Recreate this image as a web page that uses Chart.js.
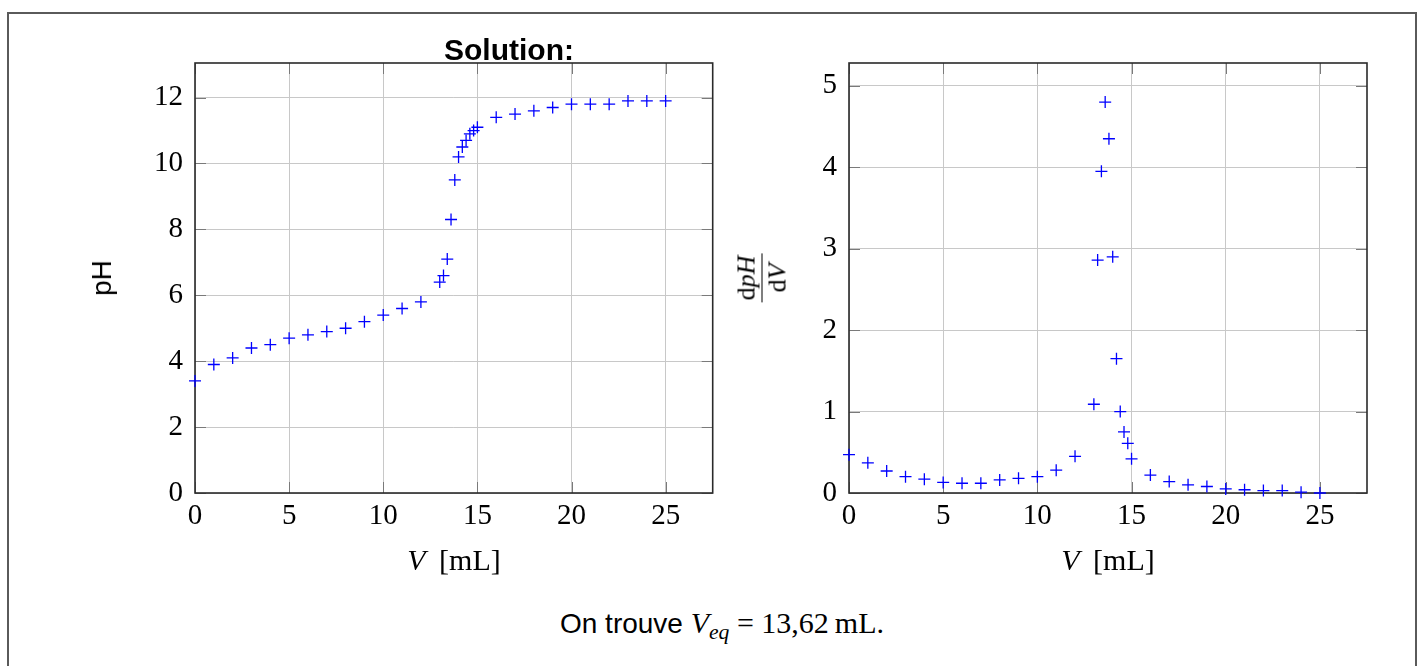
<!DOCTYPE html>
<html><head><meta charset="utf-8">
<script src="https://cdn.jsdelivr.net/npm/chart.js@4/dist/chart.umd.min.js"></script>
<style>
html,body{margin:0;padding:0;background:#fff;width:1424px;height:666px;overflow:hidden;position:relative;}
#frame{position:absolute;left:7px;top:12px;width:1410px;height:720px;border:2px solid #5a5a5a;box-sizing:border-box;}
canvas{position:absolute;top:0;}
.lbl{position:absolute;white-space:nowrap;transform:translate(-50%,-50%);color:#000;line-height:1;}
.serif{font-family:'Liberation Serif',serif;}
.sans{font-family:'Liberation Sans',sans-serif;}
.it{font-style:italic;}
.rot{transform:translate(-50%,-50%) rotate(-90deg);}
.frac{display:inline-flex;flex-direction:column;align-items:center;}
.frac .num{border-bottom:1.5px solid #000;padding:0 2px 2px 2px;}
.frac .den{padding-top:2px;}
</style></head><body>
<div id="frame"></div>
<canvas id="c1" width="720" height="600" style="left:0px"></canvas>
<canvas id="c2" width="704" height="600" style="left:720px"></canvas>

<div class="lbl sans" style="left:509px;top:50px;font-size:30px;font-weight:bold;">Solution:</div>
<div class="lbl sans rot" style="left:102px;top:278px;font-size:28px;">pH</div>
<div class="lbl serif" style="left:454px;top:560px;font-size:30px;"><span class="it" style="margin-right:0.45em">V</span>[mL]</div>
<div class="lbl serif" style="left:1108px;top:560px;font-size:30px;"><span class="it" style="margin-right:0.45em">V</span>[mL]</div>
<div class="lbl serif rot" style="left:762px;top:278px;font-size:26px;"><span class="frac"><span class="num">d<span class="it">pH</span></span><span class="den">d<span class="it">V</span></span></span></div>
<div class="lbl" style="left:722px;top:626px;font-size:30px;"><span class="sans" style="font-size:28px">On trouve </span><span class="serif"><span class="it">V<sub style="font-size:0.72em;vertical-align:-0.3em">eq</sub></span> = 13,62&#8239;mL.</span></div>

<script>
// ---- data ----
const volume = [0,1,2,3,4,5,6,7,8,9,10,11,12,13,13.2,13.4,13.6,13.8,14,14.2,14.4,14.6,14.8,15,16,17,18,19,20,21,22,23,24,25];
const pH = [3.4,3.9,4.1,4.4,4.5,4.7,4.8,4.9,5.0,5.2,5.4,5.6,5.8,6.4,6.6,7.1,8.3,9.5,10.2,10.5,10.7,10.9,11.0,11.1,11.4,11.5,11.6,11.7,11.8,11.8,11.8,11.9,11.9,11.9];
const dpHdV = [0.47,0.37,0.27,0.2,0.17,0.13,0.12,0.12,0.16,0.18,0.2,0.28,0.45,1.09,2.86,3.95,4.8,4.35,2.9,1.65,1.0,0.75,0.61,0.42,0.22,0.14,0.1,0.08,0.05,0.04,0.03,0.03,0.01,0.0];
const xTicks = [0,5,10,15,20,25];
const pHTicks = [0,2,4,6,8,10,12];
const dTicks = [0,1,2,3,4,5];

const framePlugin = {
  id:'frame',
  beforeDatasetsDraw(chart){
    const {ctx, chartArea:a, scales:{x,y}} = chart;
    ctx.save();
    ctx.strokeStyle = '#7a7a7a'; ctx.lineWidth = 1;
    const L = 11;
    x.ticks.forEach(t=>{
      const px = Math.round(x.getPixelForValue(t.value))+0.5;
      ctx.beginPath(); ctx.moveTo(px,a.bottom); ctx.lineTo(px,a.bottom-L);
      ctx.moveTo(px,a.top); ctx.lineTo(px,a.top+L); ctx.stroke();
    });
    y.ticks.forEach(t=>{
      const py = Math.round(y.getPixelForValue(t.value))+0.5;
      ctx.beginPath(); ctx.moveTo(a.left,py); ctx.lineTo(a.left+L,py);
      ctx.moveTo(a.right,py); ctx.lineTo(a.right-L,py); ctx.stroke();
    });
    ctx.strokeStyle = '#2a2a2a'; ctx.lineWidth = 1.6;
    ctx.strokeRect(a.left, a.top, a.right-a.left, a.bottom-a.top);
    ctx.restore();
  }
};

function makeChart(id, values, ymax, yTicks, yAxisW, padRight){
  return new Chart(document.getElementById(id), {
    type:'scatter',
    data:{datasets:[{
      data: volume.map((v,i)=>({x:v, y:values[i]})),
      pointStyle:'cross', pointRadius:6, pointHoverRadius:6,
      borderColor:'#0000ff', backgroundColor:'#0000ff', borderWidth:1.3,
      showLine:false, clip:false
    }]},
    options:{
      responsive:false, animation:false, events:[],
      layout:{padding:{top:63,right:padRight,left:0,bottom:0}},
      plugins:{legend:{display:false}, tooltip:{enabled:false}},
      scales:{
        x:{type:'linear', min:0, max:27.5,
          afterBuildTicks:s=>{s.ticks = xTicks.map(v=>({value:v}));},
          afterFit:s=>{s.height = 107;},
          grid:{color:'#c8c8c8', lineWidth:1, drawTicks:false},
          border:{display:false},
          ticks:{padding:6, color:'#000', maxRotation:0, autoSkip:false,
                 font:{family:'Liberation Serif', size:29}}
        },
        y:{type:'linear', min:0, max:ymax,
          afterBuildTicks:s=>{s.ticks = yTicks.map(v=>({value:v}));},
          afterFit:s=>{s.width = yAxisW;},
          grid:{color:'#c8c8c8', lineWidth:1, drawTicks:false},
          border:{display:false},
          ticks:{padding:12, color:'#000', autoSkip:false,
                 font:{family:'Liberation Serif', size:29}}
        }
      }
    },
    plugins:[framePlugin]
  });
}

makeChart('c1', pH, 13.05, pHTicks, 195, 7);
makeChart('c2', dpHdV, 5.28, dTicks, 129, 57);
</script>
</body></html>
